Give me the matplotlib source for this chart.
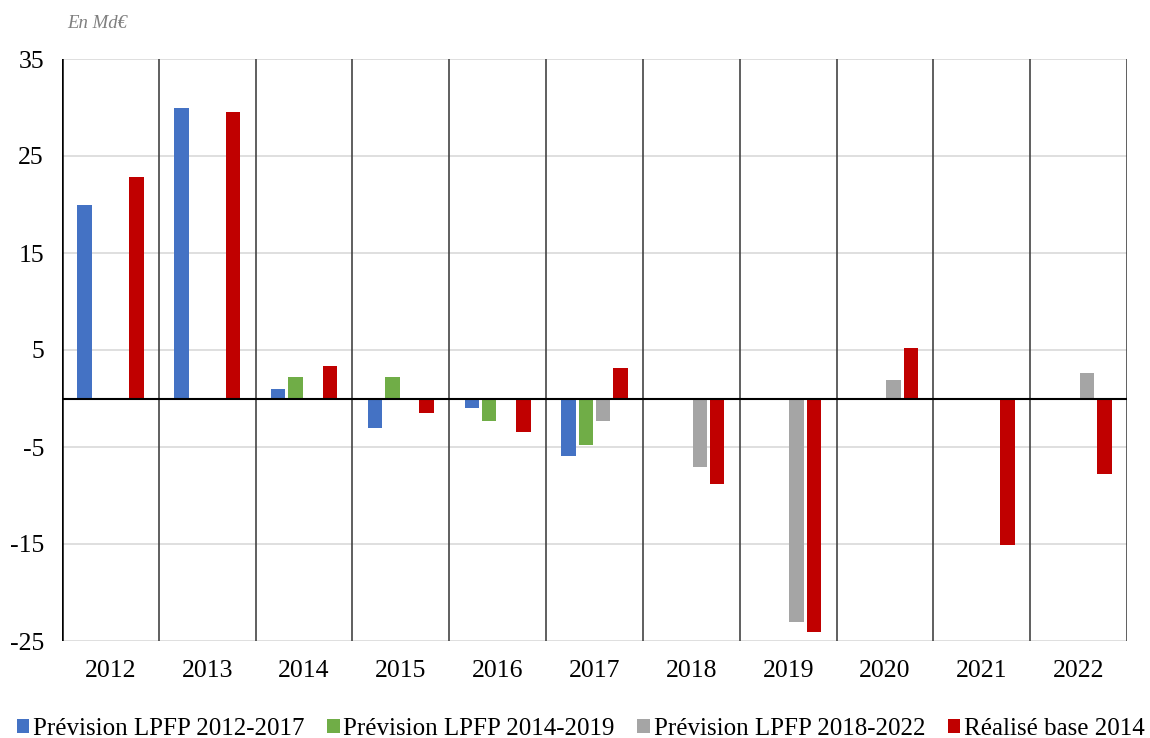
import numpy as np
import matplotlib as mpl
mpl.use('Agg')
from matplotlib import pyplot as plt
from matplotlib.patches import Patch

years = ['2012', '2013', '2014', '2015', '2016', '2017', '2018', '2019', '2020', '2021', '2022']
series_names = ['Prévision LPFP 2012-2017', 'Prévision LPFP 2014-2019',
                'Prévision LPFP 2018-2022', 'Réalisé base 2014']
lpfp_2012 = [20.0, 30.0, 1.0, -3.0, -1.0, -5.9, np.nan, np.nan, np.nan, np.nan, np.nan]
lpfp_2014 = [np.nan, np.nan, 2.2, 2.2, -2.3, -4.8, np.nan, np.nan, np.nan, np.nan, np.nan]
lpfp_2018 = [np.nan, np.nan, np.nan, np.nan, np.nan, -2.3, -7.1, -23.0, 1.9, np.nan, 2.6]
realise = [22.8, 29.5, 3.35, -1.5, -3.45, 3.1, -8.8, -24.1, 5.2, -15.1, -7.8]
yticks = [-25, -15, -5, 5, 15, 25, 35]

colors = ['#4472C4', '#70AD47', '#A5A5A5', '#C00000']
series = [lpfp_2012, lpfp_2014, lpfp_2018, realise]

plt.rcParams['font.family'] = ['Liberation Serif', 'DejaVu Serif']

fig = plt.figure(figsize=(11.5, 7.38), dpi=100)
ax = fig.add_axes([62 / 1150, 1 - 641 / 738, (1127 - 62) / 1150, (641 - 59) / 738])

x = np.arange(len(years))
width = 0.15
step = 0.178
for i, (vals, c) in enumerate(zip(series, colors)):
    offs = (i - 1.5) * step
    ax.bar(x + offs, vals, width, color=c, zorder=3)

# grid and separators
for t in yticks:
    ax.axhline(t, color='#D9D9D9', lw=1.2, zorder=1)
for b in np.arange(len(years) + 1) - 0.5:
    ax.axvline(b, color='#444444', lw=1.2, zorder=2)
ax.axhline(0, color='black', lw=1.5, zorder=4)

ax.set_xlim(-0.5, len(years) - 0.5)
ax.set_ylim(-25, 35)
ax.set_yticks(yticks)
ax.set_yticklabels([str(t) for t in yticks])
ax.set_xticks(x)
ax.set_xticklabels(years)
ax.tick_params(axis='both', length=0, labelsize=18.5)
ax.tick_params(axis='y', pad=13)
ax.tick_params(axis='x', pad=14)
for s in ax.spines.values():
    s.set_visible(False)
ax.axvline(-0.5, color='black', lw=1.8, zorder=5)

fig.text(67 / 1150, 1 - 24 / 738, 'En Md€', style='italic', color='#7F7F7F',
         fontsize=13.5, va='center', ha='left')

handles = [Patch(facecolor=c, edgecolor='none') for c in colors]
fig.legend(handles, series_names, loc='center', bbox_to_anchor=(0.505, 1 - 729 / 738),
           ncol=4, frameon=False, fontsize=18, handlelength=0.5, handleheight=0.5,
           handletextpad=0.15, columnspacing=0.9, borderaxespad=0)

plt.savefig('out.png', dpi=100)
plt.close()
